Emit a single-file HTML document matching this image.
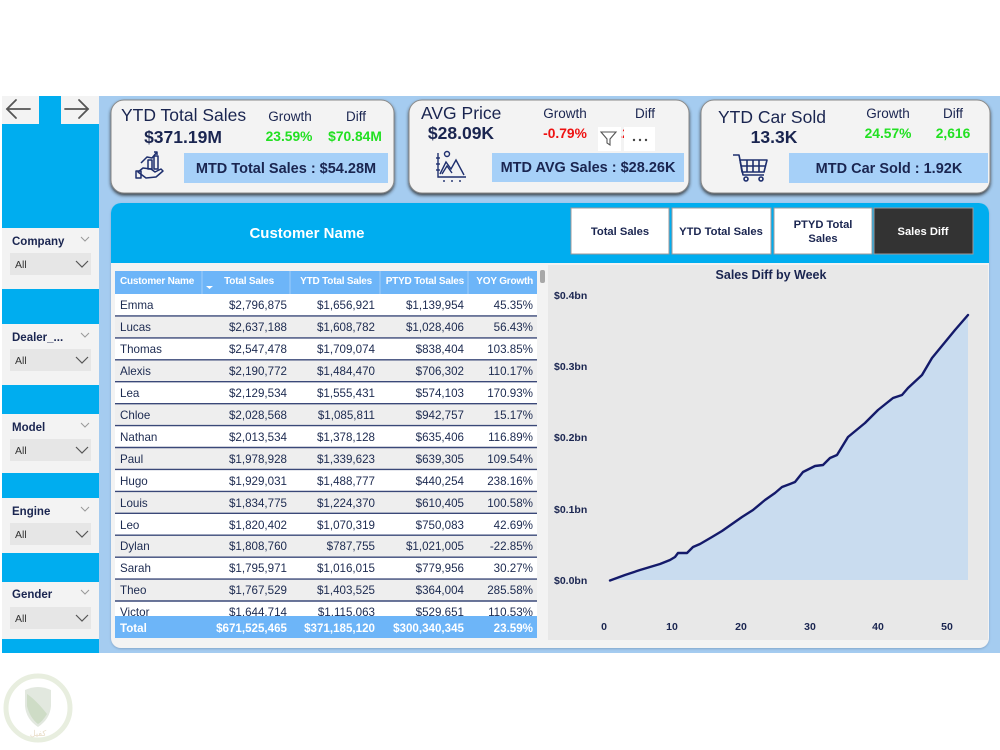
<!DOCTYPE html>
<html>
<head>
<meta charset="utf-8">
<style>
  html,body{margin:0;padding:0;background:#fff;}
  body{width:1000px;height:750px;overflow:hidden;}
  svg{display:block;}
  text{font-family:"Liberation Sans","Noto Sans CJK SC",sans-serif;}
</style>
</head>
<body>
<svg width="1000" height="750" viewBox="0 0 1000 750" xmlns="http://www.w3.org/2000/svg">
  <defs>
    <filter id="sh" x="-5%" y="-10%" width="110%" height="125%">
      <feDropShadow dx="0" dy="2" stdDeviation="1.6" flood-color="#2a2a2a" flood-opacity="0.85"/>
    </filter>
    <filter id="sh2" x="-5%" y="-5%" width="110%" height="110%">
      <feDropShadow dx="0" dy="1" stdDeviation="1" flood-color="#6a8ab0" flood-opacity="0.6"/>
    </filter>
    <clipPath id="rowsclip"><rect x="115" y="294" width="422" height="322"/></clipPath>
  </defs>

  <!-- page backgrounds -->
  <rect x="0" y="0" width="1000" height="750" fill="#ffffff"/>
  <rect x="99" y="96" width="901" height="557" fill="#a5ccf0"/>

  <!-- sidebar -->
  <rect x="2" y="96" width="97" height="557" fill="#00adef"/>
  <rect x="2" y="96" width="37" height="28" fill="#f3f3f3"/>
  <rect x="61" y="96" width="38" height="28" fill="#f3f3f3"/>
  <g stroke="#555" stroke-width="1.8" fill="none" stroke-linecap="round">
    <line x1="7" y1="109" x2="30" y2="109"/>
    <polyline points="16,100 7,109 16,118"/>
    <line x1="65" y1="109" x2="88" y2="109"/>
    <polyline points="79,100 88,109 79,118"/>
  </g>

  <!-- slicers -->
  <g>
    <rect x="2" y="228" width="97" height="61" fill="#f3f3f3"/>
    <rect x="2" y="324" width="97" height="61" fill="#f3f3f3"/>
    <rect x="2" y="414" width="97" height="59" fill="#f3f3f3"/>
    <rect x="2" y="498" width="97" height="55" fill="#f3f3f3"/>
    <rect x="2" y="582" width="97" height="57" fill="#f3f3f3"/>

    <rect x="10" y="253" width="81" height="22" fill="#e6e6e6"/>
    <rect x="10" y="349" width="81" height="22" fill="#e6e6e6"/>
    <rect x="10" y="439" width="81" height="22" fill="#e6e6e6"/>
    <rect x="10" y="523" width="81" height="22" fill="#e6e6e6"/>
    <rect x="10" y="607" width="81" height="22" fill="#e6e6e6"/>

    <g font-size="11.5" font-weight="bold" fill="#1a2550">
      <text x="12" y="245">Company</text>
      <text x="12" y="341">Dealer_...</text>
      <text x="12" y="431">Model</text>
      <text x="12" y="515">Engine</text>
      <text x="12" y="598">Gender</text>
    </g>
    <g font-size="10.5" fill="#333">
      <text x="15" y="268">All</text>
      <text x="15" y="364">All</text>
      <text x="15" y="454">All</text>
      <text x="15" y="538">All</text>
      <text x="15" y="622">All</text>
    </g>
    <g stroke="#999" stroke-width="1" fill="none">
      <polyline points="81,237 85,241 89,237"/>
      <polyline points="81,333 85,337 89,333"/>
      <polyline points="81,423 85,427 89,423"/>
      <polyline points="81,507 85,511 89,507"/>
      <polyline points="81,590 85,594 89,590"/>
    </g>
    <g stroke="#555" stroke-width="1.2" fill="none">
      <polyline points="76,261 82,267 88,261"/>
      <polyline points="76,357 82,363 88,357"/>
      <polyline points="76,447 82,453 88,447"/>
      <polyline points="76,531 82,537 88,531"/>
      <polyline points="76,615 82,621 88,615"/>
    </g>
  </g>

  <!-- KPI cards -->
  <rect x="111" y="100" width="283" height="93" rx="13" fill="#f3f3f3" stroke="#8a8a8a" stroke-width="1" filter="url(#sh)"/>
  <rect x="409" y="100" width="280" height="93" rx="13" fill="#f3f3f3" stroke="#8a8a8a" stroke-width="1" filter="url(#sh)"/>
  <rect x="701" y="100" width="289" height="93" rx="13" fill="#f3f3f3" stroke="#8a8a8a" stroke-width="1" filter="url(#sh)"/>

  <!-- MTD boxes -->
  <rect x="184" y="153" width="204" height="30" fill="#a6d0f8"/>
  <rect x="492" y="153" width="192" height="29" fill="#a6d0f8"/>
  <rect x="789" y="153" width="199" height="30" fill="#a6d0f8"/>

  <!-- card 1 text -->
  <text x="121" y="121" font-size="17.5" fill="#1a2550">YTD Total Sales</text>
  <text x="183" y="143" font-size="17.5" font-weight="bold" fill="#1a2550" text-anchor="middle">$371.19M</text>
  <text x="290" y="121" font-size="13.5" fill="#1a2550" text-anchor="middle">Growth</text>
  <text x="356" y="121" font-size="13.5" fill="#1a2550" text-anchor="middle">Diff</text>
  <text x="289" y="141" font-size="13.8" font-weight="bold" fill="#22e022" text-anchor="middle">23.59%</text>
  <text x="355" y="141" font-size="13.8" font-weight="bold" fill="#22e022" text-anchor="middle">$70.84M</text>
  <text x="286" y="173" font-size="14.5" font-weight="bold" fill="#1a2550" text-anchor="middle">MTD Total Sales : $54.28M</text>

  <!-- card 1 icon: hand with chart -->
  <g stroke="#1e2f6e" stroke-width="1.5" fill="none" stroke-linejoin="round">
    <rect x="148" y="160" width="4" height="9"/>
    <rect x="154" y="156" width="4" height="13"/>
    <polyline points="141,163 147,157 152,158 157,152"/>
    <polyline points="154,152 157,152 157,155"/>
    <path d="M138,172 l5,-4 l8,1 l4,3 l6,-3 l2,2 l-7,6 l-10,1 z"/>
    <rect x="136" y="171" width="5" height="7"/>
  </g>

  <!-- card 2 text -->
  <text x="421" y="119" font-size="17.5" fill="#1a2550">AVG Price</text>
  <text x="461" y="139" font-size="17.5" font-weight="bold" fill="#1a2550" text-anchor="middle">$28.09K</text>
  <text x="565" y="118" font-size="13.5" fill="#1a2550" text-anchor="middle">Growth</text>
  <text x="645" y="118" font-size="13.5" fill="#1a2550" text-anchor="middle">Diff</text>
  <text x="565" y="138" font-size="13.8" font-weight="bold" fill="#ee1111" text-anchor="middle">-0.79%</text>
  <text x="623" y="138" font-size="13.8" font-weight="bold" fill="#ee1111" text-anchor="middle">-$0.22K</text>
  <!-- overlay icons -->
  <rect x="598" y="127" width="23" height="24" fill="#ffffff"/>
  <rect x="624" y="127" width="31" height="24" fill="#ffffff"/>
  <path d="M601,132 h15 l-6,7 v6 l-3,-2 v-4 z" fill="none" stroke="#555" stroke-width="1.1"/>
  <g fill="#444"><circle cx="634" cy="140" r="1.2"/><circle cx="640" cy="140" r="1.2"/><circle cx="646" cy="140" r="1.2"/></g>
  <text x="588" y="172" font-size="14.5" font-weight="bold" fill="#1a2550" text-anchor="middle">MTD AVG Sales : $28.26K</text>

  <!-- card 2 icon: mountain chart -->
  <g stroke="#1e2f6e" stroke-width="1.4" fill="none">
    <polyline points="438,153 438,177 466,177"/>
    <line x1="436" y1="158" x2="440" y2="158"/>
    <line x1="436" y1="164" x2="440" y2="164"/>
    <line x1="436" y1="170" x2="440" y2="170"/>
    <polyline points="440,174 446,162 451,169 456,160 464,175"/>
    <polyline points="442,174 447,166 452,173"/>
    <circle cx="447" cy="154" r="2.5"/>
    <line x1="444" y1="180" x2="444" y2="182"/>
    <line x1="452" y1="180" x2="452" y2="182"/>
    <line x1="460" y1="180" x2="460" y2="182"/>
  </g>

  <!-- card 3 text -->
  <text x="718" y="123" font-size="17.5" fill="#1a2550">YTD Car Sold</text>
  <text x="774" y="143" font-size="17.5" font-weight="bold" fill="#1a2550" text-anchor="middle">13.3K</text>
  <text x="888" y="118" font-size="13.5" fill="#1a2550" text-anchor="middle">Growth</text>
  <text x="953" y="118" font-size="13.5" fill="#1a2550" text-anchor="middle">Diff</text>
  <text x="888" y="138" font-size="13.8" font-weight="bold" fill="#22e022" text-anchor="middle">24.57%</text>
  <text x="953" y="138" font-size="13.8" font-weight="bold" fill="#22e022" text-anchor="middle">2,616</text>
  <text x="889" y="173" font-size="14.5" font-weight="bold" fill="#1a2550" text-anchor="middle">MTD Car Sold : 1.92K</text>

  <!-- card 3 icon: cart -->
  <g stroke="#1e2f6e" stroke-width="1.6" fill="none" stroke-linejoin="round">
    <polyline points="733,155 739,155 743,175 764,175"/>
    <path d="M740,160 h27 l-3,12 h-22 z"/>
    <line x1="747" y1="160" x2="747" y2="172"/>
    <line x1="753" y1="160" x2="753" y2="172"/>
    <line x1="759" y1="160" x2="759" y2="172"/>
    <line x1="741" y1="166" x2="766" y2="166"/>
    <circle cx="746" cy="179" r="2"/>
    <circle cx="761" cy="179" r="2"/>
  </g>

  <!-- main panel -->
  <rect x="111" y="203" width="878" height="445" rx="10" fill="#f3f3f3" filter="url(#sh2)"/>
  <rect x="111" y="203" width="878" height="60" rx="10" fill="#00adef"/>
  <rect x="111" y="225" width="878" height="38" fill="#00adef"/>
  <text x="307" y="238" font-size="15" font-weight="bold" fill="#ffffff" text-anchor="middle">Customer Name</text>

  <!-- buttons -->
  <rect x="571" y="208" width="98" height="46" fill="#ffffff" stroke="#a09898" stroke-width="1"/>
  <rect x="672" y="208" width="99" height="46" fill="#ffffff" stroke="#a09898" stroke-width="1"/>
  <rect x="774" y="208" width="98" height="46" fill="#ffffff" stroke="#a09898" stroke-width="1"/>
  <rect x="874" y="208" width="99" height="46" fill="#333333" stroke="#a09898" stroke-width="1"/>
  <g font-size="11.2" font-weight="bold" text-anchor="middle">
    <text x="620" y="235" fill="#1a2550">Total Sales</text>
    <text x="721" y="235" fill="#1a2550">YTD Total Sales</text>
    <text x="823" y="228" fill="#1a2550">PTYD Total</text>
    <text x="823" y="242" fill="#1a2550">Sales</text>
    <text x="923" y="235" fill="#ffffff">Sales Diff</text>
  </g>

  <!-- table -->
  <rect x="115" y="271" width="422" height="367" fill="#ffffff"/>
  <rect x="115" y="271" width="422" height="23" fill="#6db5f8"/>
  <g stroke="#9fcdfa" stroke-width="1">
    <line x1="202" y1="271" x2="202" y2="294"/>
    <line x1="290" y1="271" x2="290" y2="294"/>
    <line x1="380" y1="271" x2="380" y2="294"/>
    <line x1="468" y1="271" x2="468" y2="294"/>
  </g>
  <g font-size="10" font-weight="bold" fill="#ffffff" letter-spacing="-0.2">
    <text x="120" y="284">Customer Name</text>
    <text x="274" y="284" text-anchor="end">Total Sales</text>
    <text x="372" y="284" text-anchor="end">YTD Total Sales</text>
    <text x="464" y="284" text-anchor="end">PTYD Total Sales</text>
    <text x="533" y="284" text-anchor="end">YOY Growth</text>
  </g>
  <path d="M206,286 h7 l-3.5,3 z" fill="#ffffff"/>
  <rect x="540" y="270" width="5" height="13" rx="2" fill="#a8a8a8"/>

  <g clip-path="url(#rowsclip)">
    <rect x="115" y="315.9" width="422" height="21.9" fill="#eeeeee"/>
    <rect x="115" y="359.8" width="422" height="21.9" fill="#eeeeee"/>
    <rect x="115" y="403.7" width="422" height="21.9" fill="#eeeeee"/>
    <rect x="115" y="447.5" width="422" height="21.9" fill="#eeeeee"/>
    <rect x="115" y="491.4" width="422" height="21.9" fill="#eeeeee"/>
    <rect x="115" y="535.2" width="422" height="21.9" fill="#eeeeee"/>
    <rect x="115" y="579.1" width="422" height="21.9" fill="#eeeeee"/>
    <g stroke="#3a4878" stroke-width="1.4">
      <line x1="115" y1="315.9" x2="537" y2="315.9"/>
      <line x1="115" y1="337.9" x2="537" y2="337.9"/>
      <line x1="115" y1="359.8" x2="537" y2="359.8"/>
      <line x1="115" y1="381.7" x2="537" y2="381.7"/>
      <line x1="115" y1="403.7" x2="537" y2="403.7"/>
      <line x1="115" y1="425.6" x2="537" y2="425.6"/>
      <line x1="115" y1="447.5" x2="537" y2="447.5"/>
      <line x1="115" y1="469.4" x2="537" y2="469.4"/>
      <line x1="115" y1="491.4" x2="537" y2="491.4"/>
      <line x1="115" y1="513.3" x2="537" y2="513.3"/>
      <line x1="115" y1="535.2" x2="537" y2="535.2"/>
      <line x1="115" y1="557.2" x2="537" y2="557.2"/>
      <line x1="115" y1="579.1" x2="537" y2="579.1"/>
      <line x1="115" y1="601.0" x2="537" y2="601.0"/>
    </g>
    <g font-size="11.6" fill="#1c2a50">
      <g>
        <text x="120" y="309">Emma</text>
        <text x="120" y="331">Lucas</text>
        <text x="120" y="353">Thomas</text>
        <text x="120" y="375">Alexis</text>
        <text x="120" y="397">Lea</text>
        <text x="120" y="419">Chloe</text>
        <text x="120" y="441">Nathan</text>
        <text x="120" y="463">Paul</text>
        <text x="120" y="485">Hugo</text>
        <text x="120" y="507">Louis</text>
        <text x="120" y="529">Leo</text>
        <text x="120" y="550">Dylan</text>
        <text x="120" y="572">Sarah</text>
        <text x="120" y="594">Theo</text>
        <text x="120" y="616">Victor</text>
      </g>
      <g text-anchor="end">
        <text x="287" y="309">$2,796,875</text>
        <text x="287" y="331">$2,637,188</text>
        <text x="287" y="353">$2,547,478</text>
        <text x="287" y="375">$2,190,772</text>
        <text x="287" y="397">$2,129,534</text>
        <text x="287" y="419">$2,028,568</text>
        <text x="287" y="441">$2,013,534</text>
        <text x="287" y="463">$1,978,928</text>
        <text x="287" y="485">$1,929,031</text>
        <text x="287" y="507">$1,834,775</text>
        <text x="287" y="529">$1,820,402</text>
        <text x="287" y="550">$1,808,760</text>
        <text x="287" y="572">$1,795,971</text>
        <text x="287" y="594">$1,767,529</text>
        <text x="287" y="616">$1,644,714</text>
      </g>
      <g text-anchor="end">
        <text x="375" y="309">$1,656,921</text>
        <text x="375" y="331">$1,608,782</text>
        <text x="375" y="353">$1,709,074</text>
        <text x="375" y="375">$1,484,470</text>
        <text x="375" y="397">$1,555,431</text>
        <text x="375" y="419">$1,085,811</text>
        <text x="375" y="441">$1,378,128</text>
        <text x="375" y="463">$1,339,623</text>
        <text x="375" y="485">$1,488,777</text>
        <text x="375" y="507">$1,224,370</text>
        <text x="375" y="529">$1,070,319</text>
        <text x="375" y="550">$787,755</text>
        <text x="375" y="572">$1,016,015</text>
        <text x="375" y="594">$1,403,525</text>
        <text x="375" y="616">$1,115,063</text>
      </g>
      <g text-anchor="end">
        <text x="464" y="309">$1,139,954</text>
        <text x="464" y="331">$1,028,406</text>
        <text x="464" y="353">$838,404</text>
        <text x="464" y="375">$706,302</text>
        <text x="464" y="397">$574,103</text>
        <text x="464" y="419">$942,757</text>
        <text x="464" y="441">$635,406</text>
        <text x="464" y="463">$639,305</text>
        <text x="464" y="485">$440,254</text>
        <text x="464" y="507">$610,405</text>
        <text x="464" y="529">$750,083</text>
        <text x="464" y="550">$1,021,005</text>
        <text x="464" y="572">$779,956</text>
        <text x="464" y="594">$364,004</text>
        <text x="464" y="616">$529,651</text>
      </g>
      <g text-anchor="end">
        <text x="533" y="309">45.35%</text>
        <text x="533" y="331">56.43%</text>
        <text x="533" y="353">103.85%</text>
        <text x="533" y="375">110.17%</text>
        <text x="533" y="397">170.93%</text>
        <text x="533" y="419">15.17%</text>
        <text x="533" y="441">116.89%</text>
        <text x="533" y="463">109.54%</text>
        <text x="533" y="485">238.16%</text>
        <text x="533" y="507">100.58%</text>
        <text x="533" y="529">42.69%</text>
        <text x="533" y="550">-22.85%</text>
        <text x="533" y="572">30.27%</text>
        <text x="533" y="594">285.58%</text>
        <text x="533" y="616">110.53%</text>
      </g>
    </g>
  </g>

  <!-- total row -->
  <rect x="115" y="616" width="422" height="22" fill="#6db5f8"/>
  <g font-size="11.6" font-weight="bold" fill="#ffffff">
    <text x="120" y="632">Total</text>
    <text x="287" y="632" text-anchor="end">$671,525,465</text>
    <text x="375" y="632" text-anchor="end">$371,185,120</text>
    <text x="464" y="632" text-anchor="end">$300,340,345</text>
    <text x="533" y="632" text-anchor="end">23.59%</text>
  </g>

  <!-- chart -->
  <rect x="548" y="265" width="440" height="375" fill="#e8e8e8"/>
  <text x="771" y="279" font-size="12.5" font-weight="bold" fill="#1a2550" text-anchor="middle">Sales Diff by Week</text>
  <g font-size="10.5" font-weight="bold" fill="#1a2550">
    <text x="554" y="299">$0.4bn</text>
    <text x="554" y="370">$0.3bn</text>
    <text x="554" y="441">$0.2bn</text>
    <text x="554" y="513">$0.1bn</text>
    <text x="554" y="584">$0.0bn</text>
  </g>
  <g font-size="10.5" font-weight="bold" fill="#1a2550" text-anchor="middle">
    <text x="604" y="630">0</text>
    <text x="672" y="630">10</text>
    <text x="741" y="630">20</text>
    <text x="810" y="630">30</text>
    <text x="878" y="630">40</text>
    <text x="947" y="630">50</text>
  </g>
  <path d="M610,580.5 L625,575 L640,570 L650,567 L660,564 L670,560 L675,557 L678,553 L687,553 L693,547 L700,544 L712,537 L722,531 L732,524 L742,517 L753,510 L765,500 L775,493 L782,487 L790,484 L795,482 L803,472 L815,466 L823,465 L830,458 L837,455 L848,437 L865,423 L878,410 L893,398 L902,395 L908,388 L922,375 L932,358 L955,330 L968,315 L968,580 L610,580 Z" fill="#c9dcef"/>
  <polyline points="610,580.5 625,575 640,570 650,567 660,564 670,560 675,557 678,553 687,553 693,547 700,544 712,537 722,531 732,524 742,517 753,510 765,500 775,493 782,487 790,484 795,482 803,472 815,466 823,465 830,458 837,455 848,437 865,423 878,410 893,398 902,395 908,388 922,375 932,358 955,330 968,315" fill="none" stroke="#141a6a" stroke-width="2.4" stroke-linejoin="round" stroke-linecap="round"/>

  <!-- watermark logo -->
  <g opacity="0.9">
    <circle cx="38" cy="708" r="32" fill="none" stroke="#e6eddc" stroke-width="5"/>
    <path d="M25,690 Q38,684 51,690 L51,706 Q50,719 38,727 Q26,719 25,706 Z" fill="#dfe6dc"/>
    <path d="M27,694 Q36,700 47,714 Q42,722 38,724 Q30,718 27,706 Z" fill="#c9d9c0"/>
    <text x="38" y="736" font-size="8" fill="#e6d9c2" text-anchor="middle" font-family="DejaVu Sans, sans-serif">كفيل</text>
  </g>
</svg>
</body>
</html>
